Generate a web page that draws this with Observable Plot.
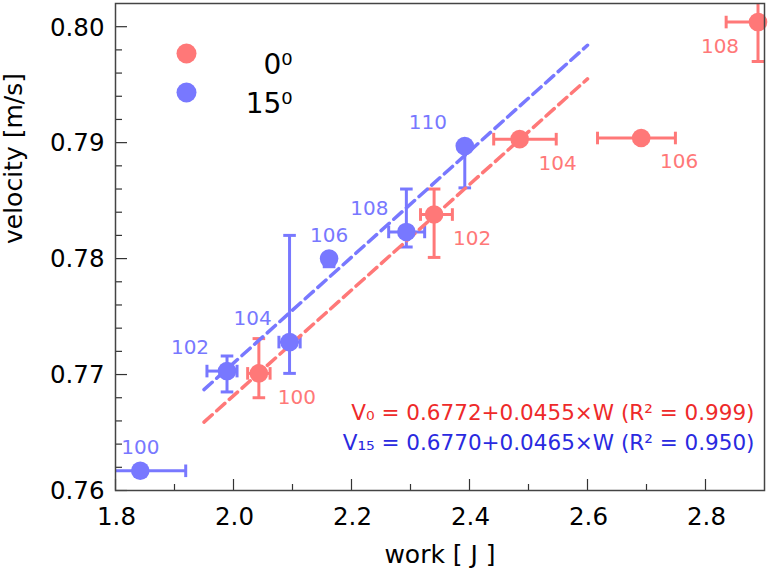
<!DOCTYPE html>
<html>
<head>
<meta charset="utf-8">
<script src="https://cdn.jsdelivr.net/npm/d3@7"></script>
<script src="https://cdn.jsdelivr.net/npm/@observablehq/plot@0.6"></script>
<style>
  body { margin: 0; background: #fff; }
  #chart svg { display: block; font-family: "DejaVu Sans", sans-serif; }
  g[aria-label="ticklabels"] text { letter-spacing: 2px; }
  g[aria-label="axistitle"] text { letter-spacing: 0.8px; }
  g[aria-label="equation"] text { letter-spacing: 0.8px; }
  g[aria-label="pointlabel"] text { letter-spacing: 0.5px; }
</style>
</head>
<body>
<div id="chart"></div>
<script>
// ---- data: 0 degree series ----
const labels0  = ["100", "102", "104", "106", "108"];
const work0    = [2.043, 2.340, 2.485, 2.691, 2.889];
const vel0     = [0.7701, 0.7838, 0.7903, 0.7904, 0.8004];
const workLo0  = [2.024, 2.317, 2.441, 2.617, 2.835];
const workHi0  = [2.062, 2.371, 2.547, 2.749, 2.943];
const velLo0   = [0.7680, 0.7801, null, null, 0.7970];
const velHi0   = [0.7731, 0.7860, null, null, 0.8038];

// ---- data: 15 degree series ----
const labels15 = ["100", "102", "104", "106", "108", "110"];
const work15   = [1.842, 1.989, 2.095, 2.162, 2.293, 2.392];
const vel15    = [0.7617, 0.7703, 0.7728, 0.7800, 0.7823, 0.7897];
const workLo15 = [1.765, 1.955, 2.077, null, 2.263, null];
const workHi15 = [1.919, 2.006, 2.113, null, 2.324, null];
const velLo15  = [null, 0.7685, 0.7701, 0.7793, 0.7810, 0.7861];
const velHi15  = [null, 0.7716, 0.7820, 0.7800, 0.7860, 0.7897];

// ---- fitted lines (as drawn) ----
const fitWork  = [1.95, 2.60];
const fitVel0  = [0.7659, 0.7955];
const fitVel15 = [0.7687, 0.7984];

// ---- legend / annotation text ----
const legendLabels = ["0\u2070", "15\u2070"];
const equations = [
  "V\u2080 = 0.6772+0.0455\u00d7W (R\u00b2 = 0.999)",
  "V\u2081\u2085 = 0.6770+0.0465\u00d7W (R\u00b2 = 0.950)"
];

// ---- ticks ----
const xMajor = [1.8, 2.0, 2.2, 2.4, 2.6, 2.8];
const xMinor = [1.9, 2.1, 2.3, 2.5, 2.7];
const yMajor = [0.76, 0.77, 0.78, 0.79, 0.80];
const yMinor = [0.762, 0.764, 0.766, 0.768, 0.772, 0.774, 0.776, 0.778,
                0.782, 0.784, 0.786, 0.788, 0.792, 0.794, 0.796, 0.798];

// label placement relative to each point (layout, not data)
const labelPos0  = ["br", "br", "br", "br", "bl"];
const labelPos15 = ["t", "tl", "tl", "t", "tl", "tl"];

const red = "#ff7878", blue = "#7878ff";
const eqColors = ["#ee2a2a", "#2a2ae0"];
const width = 770, height = 577;
const mL = 115, mT = 3, mR = 6, mB = 87;
const plotW = width - mL - mR, plotH = height - mT - mB;

const rows = (work, vel, wLo, wHi, vLo, vHi, labels, pos) =>
  work.map((w, i) => ({w, v: vel[i], wLo: wLo[i], wHi: wHi[i], vLo: vLo[i], vHi: vHi[i], label: labels[i], pos: pos[i]}));
const s0 = rows(work0, vel0, workLo0, workHi0, velLo0, velHi0, labels0, labelPos0);
const s15 = rows(work15, vel15, workLo15, workHi15, velLo15, velHi15, labels15, labelPos15);
const fit0 = fitWork.map((w, i) => ({w, v: fitVel0[i]}));
const fit15 = fitWork.map((w, i) => ({w, v: fitVel15[i]}));

const capH = {draw(ctx, size) { const r = Math.sqrt(size / Math.PI); ctx.moveTo(-r, 0); ctx.lineTo(r, 0); }};
const capV = {draw(ctx, size) { const r = Math.sqrt(size / Math.PI); ctx.moveTo(0, -r); ctx.lineTo(0, r); }};

function errorMarks(data, color) {
  const xs = data.filter(d => d.wLo != null);
  const ys = data.filter(d => d.vLo != null);
  const common = {stroke: color, strokeWidth: 3, clip: true};
  return [
    Plot.link(xs, {x1: "wLo", x2: "wHi", y1: "v", y2: "v", ...common}),
    Plot.link(ys, {x1: "w", x2: "w", y1: "vLo", y2: "vHi", ...common}),
    Plot.dot(xs, {x: "wLo", y: "v", symbol: capV, r: 6.3, fill: "none", ...common}),
    Plot.dot(xs, {x: "wHi", y: "v", symbol: capV, r: 6.3, fill: "none", ...common}),
    Plot.dot(ys, {x: "w", y: "vLo", symbol: capH, r: 6.3, fill: "none", ...common}),
    Plot.dot(ys, {x: "w", y: "vHi", symbol: capH, r: 6.3, fill: "none", ...common})
  ];
}

const offsets = {br: [38, 24], bl: [-38, 25], t: [0, -23.5], tl: [-37, -23.5]};
function labelMarks(data, color) {
  return Object.entries(offsets).map(([k, [dx, dy]]) =>
    Plot.text(data.filter(d => d.pos === k), {
      x: "w", y: "v", text: "label", dx, dy, fill: color, fontSize: 20, ariaLabel: "pointlabel"
    }));
}

const fmt1 = d3.format(".1f"), fmt2 = d3.format(".2f");

const chart = Plot.plot({
  width, height,
  marginLeft: mL, marginTop: mT, marginRight: mR, marginBottom: mB,
  x: {domain: [1.8, 2.9], axis: null},
  y: {domain: [0.76, 0.802], axis: null},
  style: {fontFamily: "DejaVu Sans, sans-serif", background: "#fff"},
  marks: [
    // tick marks (inward)
    Plot.ruleX(xMajor, {x: d => d, insetTop: plotH - 11, stroke: "#333", strokeWidth: 1.2}),
    Plot.ruleX(xMinor, {x: d => d, insetTop: plotH - 6, stroke: "#333", strokeWidth: 1.2}),
    Plot.ruleY(yMajor, {y: d => d, insetRight: plotW - 12, stroke: "#333", strokeWidth: 1.2}),
    Plot.ruleY(yMinor, {y: d => d, insetRight: plotW - 7, stroke: "#333", strokeWidth: 1.2}),
    // tick labels
    Plot.text(xMajor, {x: d => d, frameAnchor: "bottom", dy: 34, dx: 1, text: fmt1, fontSize: 24.5, fill: "#000", ariaLabel: "ticklabels"}),
    Plot.text(yMajor, {y: d => d, frameAnchor: "left", dx: -11, dy: 1, textAnchor: "end", text: fmt2, fontSize: 24.5, fill: "#000", ariaLabel: "ticklabels"}),
    // axis titles
    Plot.text(["work [ J ]"], {frameAnchor: "bottom", dy: 72, fontSize: 25, fill: "#000", ariaLabel: "axistitle"}),
    Plot.text(["velocity [m/s]"], {frameAnchor: "left", dx: -102, dy: -3, rotate: -90, fontSize: 25, fill: "#000", ariaLabel: "axistitle"}),
    // error bars
    ...errorMarks(s0, red),
    ...errorMarks(s15, blue),
    // fit lines
    Plot.line(fit0, {x: "w", y: "v", stroke: red, strokeWidth: 3.5, strokeDasharray: "11,6"}),
    Plot.line(fit15, {x: "w", y: "v", stroke: blue, strokeWidth: 3.5, strokeDasharray: "11,6"}),
    // points
    Plot.dot(s0, {x: "w", y: "v", r: 9.3, fill: red, stroke: "none"}),
    Plot.dot(s15, {x: "w", y: "v", r: 9.3, fill: blue, stroke: "none"}),
    // point labels
    ...labelMarks(s0, red),
    ...labelMarks(s15, blue),
    // legend
    Plot.dot([legendLabels[0]], {frameAnchor: "top-left", dx: 71, dy: 50, r: 10, fill: red, stroke: "none"}),
    Plot.dot([legendLabels[1]], {frameAnchor: "top-left", dx: 71, dy: 89, r: 10, fill: blue, stroke: "none"}),
    Plot.text([legendLabels[0]], {frameAnchor: "top-left", dx: 177, dy: 51, textAnchor: "end", fontSize: 28, fill: "#000"}),
    Plot.text([legendLabels[1]], {frameAnchor: "top-left", dx: 177, dy: 90, textAnchor: "end", fontSize: 28, fill: "#000"}),
    // equations
    Plot.text([equations[0]], {frameAnchor: "bottom-right", dx: -10, dy: -71, textAnchor: "end", fontSize: 21.5, fill: eqColors[0], ariaLabel: "equation"}),
    Plot.text([equations[1]], {frameAnchor: "bottom-right", dx: -10, dy: -41, textAnchor: "end", fontSize: 21.5, fill: eqColors[1], ariaLabel: "equation"}),
    // frame
    Plot.frame({stroke: "#444", strokeWidth: 1.5})
  ]
});
document.getElementById("chart").appendChild(chart);
</script>
</body>
</html>
